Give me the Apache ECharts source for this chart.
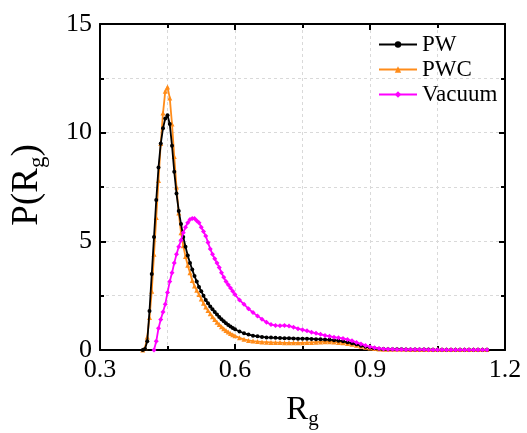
<!DOCTYPE html>
<html><head><meta charset="utf-8">
<script src="https://cdn.jsdelivr.net/npm/echarts@6/dist/echarts.min.js"></script>
<style>html,body{margin:0;padding:0;background:#fff}#c{width:527px;height:433px}</style>
</head><body><div id="c"></div>
<script>
const seriesNames = ['PW', 'PWC', 'Vacuum'];
const xTicks = [0.3, 0.6, 0.9, 1.2];
const yTicks = [0, 5, 10, 15];

const xPW = [0.395,0.400,0.405,0.410,0.415,0.420,0.425,0.430,0.435,0.440,0.445,0.450,0.455,0.460,0.465,0.470,0.475,0.480,0.485,0.490,0.495,0.500,0.505,0.510,0.515,0.520,0.525,0.530,0.535,0.540,0.545,0.550,0.555,0.560,0.565,0.570,0.575,0.580,0.585,0.590,0.595,0.600,
0.61,0.62,0.63,0.64,0.65,0.66,0.67,0.68,0.69,0.70,0.71,0.72,0.73,0.74,0.75,0.76,0.77,0.78,0.79,0.80,0.81,0.82,0.83,0.84,0.85,0.86,0.87,0.88,0.89,0.90,0.91,0.92,0.93,0.94,0.95,
0.96,0.97,0.98,0.99,1.00,1.01,1.02,1.03,1.04,1.05,1.06,1.07,1.08,1.09,1.10,1.11,1.12,1.13,1.14,1.15,1.16];
const yPW = [0,0.05,0.4,1.8,3.5,5.2,6.9,8.4,9.5,10.2,10.65,10.8,10.4,9.4,8.2,7.2,6.4,5.8,5.2,4.75,4.35,4.0,3.7,3.4,3.15,2.9,2.7,2.5,2.3,2.15,2.0,1.87,1.75,1.63,1.52,1.42,1.32,1.23,1.15,1.08,1.01,0.95,
0.85,0.77,0.71,0.66,0.63,0.6,0.58,0.57,0.56,0.55,0.54,0.54,0.53,0.52,0.52,0.52,0.51,0.5,0.49,0.48,0.47,0.45,0.43,0.4,0.36,0.31,0.26,0.2,0.15,0.11,0.08,0.06,0.05,0.04,0.03,
0.03,0.03,0.02,0.02,0.02,0.02,0.02,0.02,0.01,0.01,0.01,0.01,0.01,0.01,0.01,0.01,0.01,0.01,0.01,0.01,0.01];

const xPWC = xPW.slice();
const yPWC = [0,0.1,0.6,1.5,2.7,4.4,6.1,7.8,9.5,10.9,11.9,12.1,11.6,10.4,8.9,7.5,6.3,5.4,4.8,4.3,3.9,3.55,3.2,2.95,2.75,2.55,2.35,2.15,1.98,1.82,1.67,1.53,1.4,1.28,1.17,1.07,0.98,0.9,0.83,0.76,0.7,0.65,
0.56,0.49,0.44,0.41,0.39,0.37,0.36,0.35,0.34,0.34,0.33,0.33,0.33,0.33,0.33,0.34,0.35,0.36,0.37,0.38,0.38,0.37,0.35,0.33,0.3,0.26,0.22,0.17,0.13,0.09,0.07,0.05,0.04,0.04,0.03,
0.03,0.03,0.03,0.02,0.02,0.02,0.02,0.02,0.02,0.02,0.02,0.02,0.02,0.02,0.02,0.02,0.02,0.02,0.02,0.02,0.02];

const xVac = [0.420,0.425,0.430,0.435,0.440,0.445,0.450,0.455,0.460,0.465,0.470,0.475,0.480,0.485,0.490,0.495,0.500,0.505,0.510,0.515,0.520,0.525,0.530,0.535,0.540,0.545,0.550,0.555,0.560,0.565,0.570,0.575,0.580,0.585,0.590,0.595,0.600,
0.61,0.62,0.63,0.64,0.65,0.66,0.67,0.68,0.69,0.70,0.71,0.72,0.73,0.74,0.75,0.76,0.77,0.78,0.79,0.80,0.81,0.82,0.83,0.84,0.85,0.86,0.87,0.88,0.89,0.90,0.91,0.92,0.93,0.94,0.95,
0.96,0.97,0.98,0.99,1.00,1.01,1.02,1.03,1.04,1.05,1.06,1.07,1.08,1.09,1.10,1.11,1.12,1.13,1.14,1.15,1.16];
const yVac = [0,0.4,1.0,1.4,1.75,2.1,2.65,3.15,3.55,4.0,4.4,4.75,5.05,5.4,5.65,5.85,6.0,6.05,6.05,5.95,5.85,5.65,5.45,5.25,4.95,4.65,4.4,4.2,4.0,3.8,3.55,3.35,3.15,3.0,2.85,2.7,2.55,
2.3,2.1,1.9,1.72,1.57,1.42,1.28,1.17,1.13,1.12,1.13,1.1,1.05,0.98,0.93,0.88,0.82,0.77,0.72,0.67,0.63,0.59,0.56,0.53,0.48,0.42,0.35,0.28,0.21,0.15,0.1,0.07,0.05,0.04,0.03,
0.02,0.02,0.02,0.02,0.02,0.02,0.02,0.01,0.01,0.01,0.01,0.01,0.01,0.01,0.01,0.01,0.01,0.01,0.01,0.01,0.01];

const zip = (xs, ys) => xs.map((x, i) => [x, ys[i]]);
const FONT = 'Liberation Serif';
const chart = echarts.init(document.getElementById('c'), null, {renderer: 'canvas'});

const gridLineStyle = {color: '#d9d9d9', type: [3, 3], width: 1};
const axisBase = {
  axisLine: {show: true, onZero: false, lineStyle: {color: '#000', width: 2}},
  axisTick: {show: true, inside: true, length: 6, lineStyle: {color: '#000', width: 2}},
  minorTick: {show: true, splitNumber: 2, length: 4, lineStyle: {color: '#000', width: 2}},
};
const xNameRich = {
  a: {fontFamily: FONT, fontSize: 33, color: '#000'},
  s: {fontFamily: FONT, fontSize: 21, color: '#000', padding: [18, 0, 0, 0]}
};
const yNameRich = {
  a: {fontFamily: FONT, fontSize: 37, color: '#000'},
  s: {fontFamily: FONT, fontSize: 23, color: '#000', padding: [20, 0, 0, 0]}
};

chart.setOption({
  animation: false,
  backgroundColor: '#fff',
  grid: {left: 100, right: 22, top: 24, bottom: 83, containLabel: false, outerBoundsMode: 'none'},
  legend: {
    orient: 'vertical', left: 373, top: 28, itemWidth: 38, itemHeight: 8, itemGap: 2,
    data: seriesNames,
    textStyle: {fontFamily: FONT, fontSize: 23, color: '#000'}
  },
  xAxis: [
    Object.assign({}, axisBase, {
      type: 'value', min: xTicks[0], max: xTicks[xTicks.length - 1], interval: 0.3,
      position: 'bottom',
      axisLabel: {fontFamily: FONT, fontSize: 26, color: '#000', margin: 7, formatter: v => v.toFixed(1)},
      splitLine: {show: true, lineStyle: gridLineStyle},
      minorSplitLine: {show: true, lineStyle: gridLineStyle},
      name: '{a|R}{s|g}', nameLocation: 'middle', nameGap: 41,
      nameTextStyle: {rich: xNameRich}
    }),
    Object.assign({}, axisBase, {
      type: 'value', min: xTicks[0], max: xTicks[xTicks.length - 1], interval: 0.3,
      position: 'top', axisLabel: {show: false}, splitLine: {show: false}
    })
  ],
  yAxis: [
    Object.assign({}, axisBase, {
      type: 'value', min: yTicks[0], max: yTicks[yTicks.length - 1], interval: 5,
      position: 'left',
      axisLabel: {fontFamily: FONT, fontSize: 26, color: '#000', margin: 8},
      splitLine: {show: true, lineStyle: gridLineStyle},
      minorSplitLine: {show: true, lineStyle: gridLineStyle},
      name: '{a|P(R}{s|g}{a|)}', nameLocation: 'middle', nameGap: 51, nameRotate: 90,
      nameTextStyle: {rich: yNameRich, padding: [0, 0, 0, 4]}
    }),
    Object.assign({}, axisBase, {
      type: 'value', min: yTicks[0], max: yTicks[yTicks.length - 1], interval: 5,
      position: 'right', axisLabel: {show: false}, splitLine: {show: false}
    })
  ],
  series: [
    {name: seriesNames[0], type: 'line', z: 3, data: zip(xPW, yPW), symbol: 'circle', symbolSize: 4,
     itemStyle: {color: '#000'}, lineStyle: {color: '#000', width: 1.8}},
    {name: seriesNames[1], type: 'line', z: 2, data: zip(xPWC, yPWC), symbol: 'triangle', symbolSize: 5,
     itemStyle: {color: '#FF8C1A'}, lineStyle: {color: '#FF8C1A', width: 1.8}},
    {name: seriesNames[2], type: 'line', z: 4, data: zip(xVac, yVac), symbol: 'diamond', symbolSize: 5,
     itemStyle: {color: '#FF00FF'}, lineStyle: {color: '#FF00FF', width: 1.8}}
  ]
});
</script></body></html>
